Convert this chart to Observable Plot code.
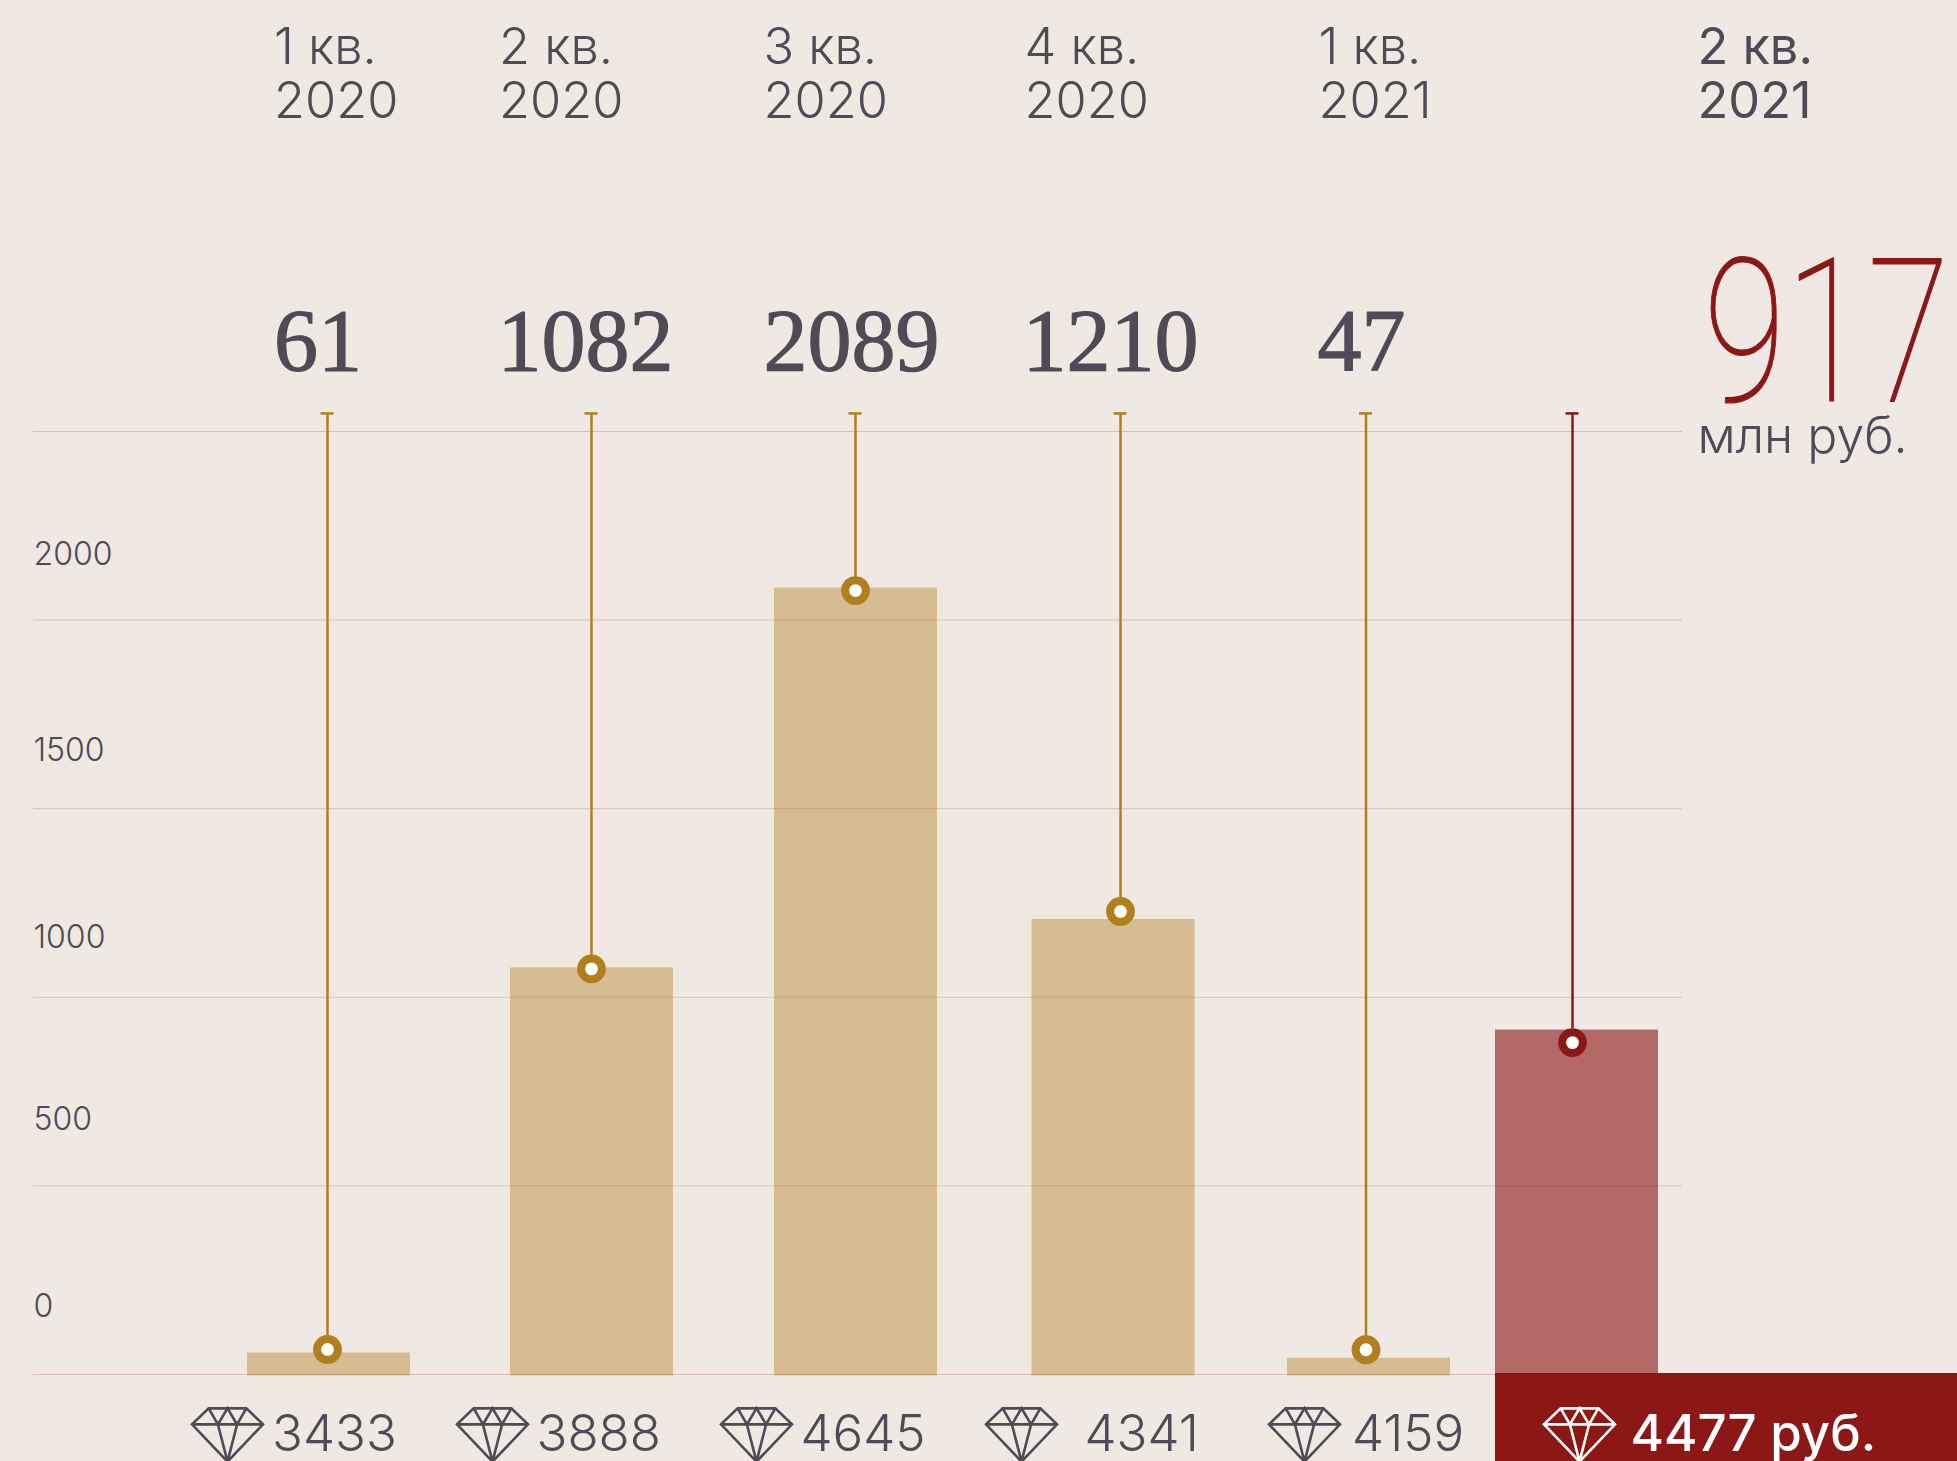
<!DOCTYPE html>
<html lang="ru"><head><meta charset="utf-8">
<script src="https://cdn.jsdelivr.net/npm/d3@7"></script>
<script src="https://cdn.jsdelivr.net/npm/@observablehq/plot@0.6"></script>
<style>html,body{margin:0;padding:0;background:#f0e9e3}svg{display:block}</style>
</head><body><div id="chart"></div>
<script>
const quarterLabels = ["1 кв.\n2020","2 кв.\n2020","3 кв.\n2020","4 кв.\n2020","1 кв.\n2021","2 кв.\n2021"];
const payoutValues = [61,1082,2089,1210,47,917];
const priceValues = ["3433","3888","4645","4341","4159","4477 руб."];
const yTickValues = [0,500,1000,1500,2000,2500];
const yTickLabels = [0,500,1000,1500,2000];

const INK="#4f4a56", GOLD="#b07f1e", RED="#8c1717", BG="#f0e9e3";
const rows = quarterLabels.map((label,i)=>({i,label,payout:payoutValues[i],price:priceValues[i],last:i===5}));
const colour = d=>d.last?RED:GOLD;

// layout: column centres and per-column nudges in pixels
const stemX=[327,591,855,1120,1365.5,1572];
const barDx=[1.5,.5,.5,-7,3,4.5];
const dotDy=[-2,2.5,4,-6.6,-7,14];
const quarterDx=[-53.5,-92.5,-92,-96,-47.5,125];
const payoutDx=[-53.5,-94,-92,-98,-48.5];
const gemDx=[-100,-99,-99,-99,-61.5,7];
const priceDx=[-55.5,-55,-55,-36,-14,58];
const tickRise=[68,66,60,58,65];
const STEM_TOP=2548;

const gem={draw(c,size){
  const r=Math.sqrt(size/Math.PI);
  const P=(x,y)=>[x*r,y*r];
  const m=(x,y)=>c.moveTo(...P(x,y)), l=(x,y)=>c.lineTo(...P(x,y));
  m(-.53,-.75); l(.53,-.75); l(1,-.3); l(0,.75); l(-1,-.3); c.closePath();
  m(-1,-.3); l(1,-.3);
  m(-.53,-.75); l(-.27,-.3); l(0,-.75); l(.27,-.3); l(.53,-.75);
  m(-.27,-.3); l(0,.75); l(.27,-.3);
}};

const sans={fontFamily:"Inter"};
const marks=[
  // grid
  Plot.ruleY(yTickValues,{y:d=>d,stroke:RED,strokeOpacity:.2,strokeWidth:1,insetLeft:33,insetRight:275}),
  // y labels
  ...yTickLabels.map((v,k)=>Plot.text([v],{y:d=>d,text:d=>String(d),frameAnchor:"left",dx:33,dy:-tickRise[k],textAnchor:"start",fontSize:32,fontWeight:300,fill:INK,...sans})),
  // bars
  ...rows.map(d=>Plot.rect([d],{x1:"i",x2:"i",y1:0,y2:"payout",insetLeft:-81.5,insetRight:-81.5,dx:barDx[d.i],dy:1.5,fill:colour(d),fillOpacity:d.last?.61:.42})),
  // red price band
  Plot.rect([5],{x1:d=>d,x2:d=>d,y1:0,y2:0,insetLeft:-77,insetRight:-385,insetTop:-1,insetBottom:-87,fill:RED}),
  // stems, caps, dots
  ...rows.map(d=>Plot.ruleX([d],{x:"i",y1:STEM_TOP,y2:"payout",stroke:colour(d),strokeWidth:2.5})),
  ...rows.map(d=>Plot.ruleY([d],{x1:"i",x2:"i",y:()=>STEM_TOP,insetLeft:-6.5,insetRight:-6.5,stroke:colour(d),strokeWidth:2.5})),
  ...rows.map(d=>Plot.dot([d],{x:"i",y:"payout",dy:dotDy[d.i],r:10.4,fill:"#fff",stroke:colour(d),strokeWidth:8})),
  // quarter labels
  ...rows.map(d=>Plot.text([d],{x:"i",text:"label",dx:quarterDx[d.i],frameAnchor:"top",dy:117,lineAnchor:"bottom",lineHeight:1.06,textAnchor:"start",fontSize:50.5,fontWeight:d.last?400:300,fill:INK,...sans})),
  // payout values
  ...rows.filter(d=>!d.last).map(d=>Plot.text([d],{x:"i",text:d=>String(d.payout),dx:payoutDx[d.i],frameAnchor:"top",dy:369,lineAnchor:"bottom",textAnchor:"start",fontSize:88,fontFamily:"Liberation Serif",fill:INK,stroke:INK,strokeWidth:1.2})),
  // highlighted value
  Plot.text([rows[5]],{x:"i",text:d=>String(d.payout),dx:131,frameAnchor:"top",dy:400,lineAnchor:"bottom",textAnchor:"start",fontSize:200,fontWeight:100,fontFamily:"Roboto",fill:RED,stroke:RED,strokeWidth:1.2,className:"big"}),
  Plot.text([rows[5]],{x:"i",text:()=>"млн руб.",dx:125,frameAnchor:"top",dy:452,lineAnchor:"bottom",textAnchor:"start",fontSize:50,fontWeight:300,fill:INK,...sans}),
  // prices
  ...rows.map(d=>Plot.dot([d],{x:"i",y:()=>0,symbol:gem,r:35.5,dx:gemDx[d.i],dy:60.5,fill:"none",stroke:d.last?"#fff":INK,strokeWidth:2.6})),
  ...rows.map(d=>Plot.text([d],{x:"i",text:"price",dx:priceDx[d.i],frameAnchor:"top",dy:1450,lineAnchor:"bottom",textAnchor:"start",fontSize:51,fontWeight:d.last?500:300,fill:d.last?"#fff":INK,...sans})),
];

const chart=Plot.plot({
  width:1957,height:1461,margin:0,
  style:{background:BG},
  x:{axis:null,domain:rows.map(d=>d.i),range:stemX,type:"linear"},
  y:{axis:null,domain:[0,2500],range:[1374,431]},
  marks
});
document.getElementById("chart").append(chart);
chart.querySelectorAll(".big text").forEach(t=>{t.setAttribute("textLength","246");t.setAttribute("lengthAdjust","spacingAndGlyphs");});
</script></body></html>
